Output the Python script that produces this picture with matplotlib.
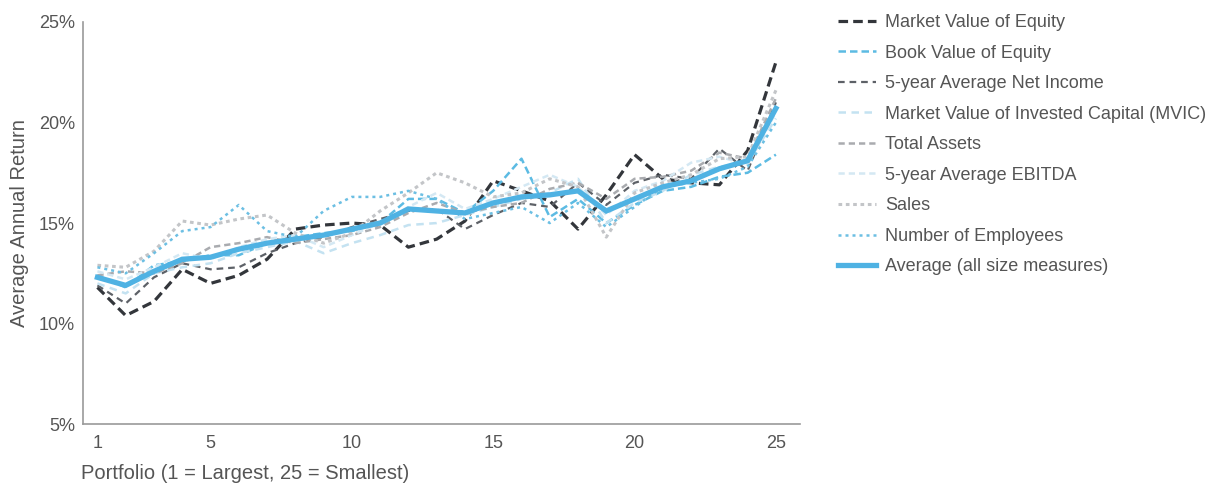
#Import required libraries
import matplotlib
matplotlib.use("Agg")
import matplotlib.pyplot as plt

plt.rcParams['font.family'] = ['Liberation Sans', 'DejaVu Sans']

#Portfolio numbers (1 = largest, 25 = smallest)
portfolios = list(range(1, 26))

#Average annual return (%) per size measure
market_value_equity = [11.8, 10.4, 11.1, 12.7, 12.0, 12.4, 13.2, 14.7, 14.9, 15.0, 14.9, 13.8, 14.2, 15.1, 17.1,
                       16.6, 16.1, 14.7, 16.4, 18.4, 17.2, 17.0, 16.9, 18.6, 23.0]
book_value_equity = [12.4, 11.8, 12.9, 13.1, 13.4, 13.4, 14.0, 14.3, 14.5, 14.6, 15.0, 16.2, 16.2, 15.5, 16.6,
                     18.2, 15.3, 16.2, 15.0, 15.9, 16.6, 16.8, 17.3, 17.5, 18.4]
net_income_5yr = [11.9, 11.0, 12.3, 13.0, 12.7, 12.8, 13.5, 14.0, 14.3, 14.8, 15.2, 15.6, 15.7, 14.7, 15.4,
                  16.0, 15.8, 17.0, 15.9, 17.0, 17.4, 17.2, 18.7, 17.6, 21.0]
mvic = [12.0, 11.5, 12.5, 12.8, 13.0, 13.5, 13.8, 14.1, 13.5, 14.0, 14.4, 14.9, 15.0, 15.4, 15.8,
        16.2, 16.5, 17.2, 15.0, 16.0, 16.6, 17.4, 17.8, 18.0, 20.2]
total_assets = [12.4, 12.6, 12.5, 13.0, 13.8, 14.0, 14.3, 14.0, 14.2, 14.4, 14.8, 15.5, 16.0, 15.5, 15.8,
                16.0, 16.7, 17.0, 16.2, 17.2, 17.3, 17.6, 18.5, 18.2, 21.2]
ebitda_5yr = [12.6, 12.2, 12.8, 13.5, 13.2, 13.8, 14.2, 14.4, 13.8, 14.4, 15.0, 15.8, 16.5, 15.7, 16.2,
              16.8, 17.4, 16.8, 15.4, 16.6, 17.1, 18.0, 18.3, 17.9, 20.5]
sales = [12.9, 12.8, 13.6, 15.1, 14.9, 15.2, 15.4, 14.5, 14.0, 14.5, 15.6, 16.5, 17.5, 17.0, 16.3,
         16.5, 17.2, 16.8, 14.3, 16.5, 17.0, 17.4, 18.2, 18.3, 21.6]
employees = [12.8, 12.5, 13.5, 14.6, 14.8, 15.9, 14.6, 14.3, 15.6, 16.3, 16.3, 16.6, 16.2, 15.2, 15.5,
             15.8, 15.0, 16.0, 14.8, 15.8, 16.8, 17.0, 17.2, 17.8, 20.0]
average = [12.3, 11.9, 12.6, 13.2, 13.3, 13.7, 14.0, 14.2, 14.4, 14.7, 15.0, 15.7, 15.6, 15.5, 16.0,
           16.3, 16.4, 16.6, 15.6, 16.2, 16.8, 17.1, 17.7, 18.1, 20.7]

y_ticks = [5, 10, 15, 20, 25]
x_ticks = [1, 5, 10, 15, 20, 25]

fig = plt.figure(figsize=(12.25, 4.87), dpi=100)
ax = fig.add_axes([0.068, 0.129, 0.585, 0.826])

#Size measure lines: (values, label, color, linestyle, width)
series = [
    (market_value_equity, "Market Value of Equity", "#33363b", (0, (3, 1.6)), 2.3),
    (book_value_equity, "Book Value of Equity", "#5cbbe3", (0, (3, 1.6)), 1.8),
    (net_income_5yr, "5-year Average Net Income", "#5d6167", (0, (3, 2.2)), 1.6),
    (mvic, "Market Value of Invested Capital (MVIC)", "#c4e2f1", (0, (3, 2.2)), 1.8),
    (total_assets, "Total Assets", "#a9abaf", (0, (2.5, 1.6)), 1.8),
    (ebitda_5yr, "5-year Average EBITDA", "#d4e8f3", (0, (2.5, 1.6)), 1.8),
    (sales, "Sales", "#c3c5c8", (0, (1.2, 1.2)), 2.2),
    (employees, "Number of Employees", "#6cbfe3", (0, (1.2, 1.6)), 1.8),
]

for values, label, color, ls, lw in series:
    ax.plot(portfolios, values, color=color, linestyle=ls, linewidth=lw, label=label)

ax.plot(portfolios, average, color="#4fb2e3", linewidth=3.8, solid_joinstyle='miter',
        label="Average (all size measures)")

#Axes styling
ax.set_xlim(0.5, 25.85)
ax.set_ylim(5, 25)
ax.set_yticks(y_ticks)
ax.set_yticklabels([f"{t}%" for t in y_ticks])
ax.set_xticks(x_ticks)
ax.tick_params(length=0, colors="#555555", labelsize=13)
ax.tick_params(axis='x', pad=8)
ax.tick_params(axis='y', pad=6)
for side in ['top', 'right']:
    ax.spines[side].set_visible(False)
for side in ['left', 'bottom']:
    ax.spines[side].set_color("#9a9a9a")
    ax.spines[side].set_linewidth(1.2)

ax.set_ylabel("Average Annual Return", color="#555555", fontsize=14.5)
ax.yaxis.set_label_coords(-0.076, 0.5)
ax.set_xlabel("Portfolio (1 = Largest, 25 = Smallest)", color="#555555", fontsize=14.5, loc='left')
ax.xaxis.set_label_coords(-0.003, -0.098)

leg = ax.legend(loc='upper left', bbox_to_anchor=(1.031, 1.06), frameon=False, fontsize=13,
                handlelength=2.1, handletextpad=0.5, labelspacing=0.75, labelcolor="#555555")

fig.savefig("out.png", dpi=100)
